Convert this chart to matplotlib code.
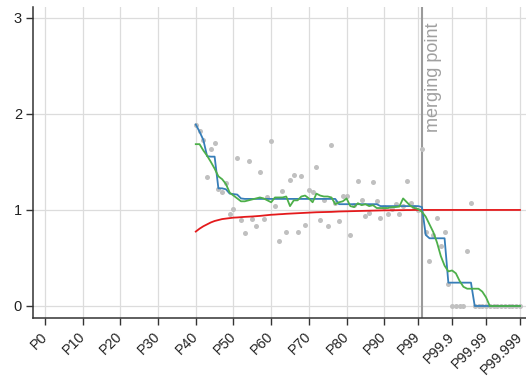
import numpy as np
import matplotlib
matplotlib.use("Agg")
import matplotlib.pyplot as plt

plt.rcParams['font.family'] = ['Liberation Sans', 'DejaVu Sans']

# ---- data -------------------------------------------------------------
tick_labels = ["P0", "P10", "P20", "P30", "P40", "P50", "P60", "P70", "P80",
               "P90", "P99", "P99.9", "P99.99", "P99.999"]
tick_index = [0, 10, 20, 30, 40, 50, 60, 70, 80, 90, 99, 108, 117, 126]

# one value per percentile step, from P40 (index 40) to P99.999 (index 126)
scatter_vals = [
    1.885, 1.82, 1.73, 1.34, 1.63, 1.70, 1.215, 1.19, 1.28, 0.96,
    1.007, 1.545, 0.90, 0.757, 1.51, 0.91, 0.83, 1.40, 0.91, 1.13,
    1.72, 1.04, 0.68, 1.20, 0.775, 1.31, 1.36, 0.775, 1.35, 0.84,
    1.21, 1.19, 1.45, 0.90, 1.10, 0.83, 1.68, 1.07, 0.88, 1.15,
    1.15, 0.74, 1.05, 1.30, 1.10, 0.94, 0.97, 1.29, 1.09, 0.92,
    1.03, 0.955, 1.01, 1.06, 0.955, 1.045, 1.30, 1.07, 1.03, 1.00,
    1.63, 0.775, 0.47, 0.74, 0.92, 0.62, 0.77, 0.23, 0.0, 0.0,
    0.0, 0.0, 0.575, 1.07, 0.0, 0.0, 0.0, 0.0, 0.0, 0.0,
    0.0, 0.0, 0.0, 0.0, 0.0, 0.0, 0.0,
]

blue_vals = [
    1.89, 1.815, 1.73, 1.56, 1.555, 1.555, 1.225, 1.225, 1.215, 1.17,
    1.165, 1.16, 1.12, 1.115, 1.115, 1.115, 1.115, 1.115, 1.115, 1.115,
    1.115, 1.115, 1.115, 1.115, 1.115, 1.115, 1.115, 1.115, 1.115, 1.115,
    1.115, 1.115, 1.115, 1.115, 1.115, 1.115, 1.115, 1.115, 1.06, 1.06,
    1.06, 1.06, 1.06, 1.06, 1.06, 1.06, 1.06, 1.06, 1.06, 1.04,
    1.04, 1.04, 1.04, 1.04, 1.04, 1.04, 1.04, 1.04, 1.04, 1.04,
    1.03, 0.74, 0.705, 0.705, 0.705, 0.705, 0.705, 0.243, 0.243, 0.243,
    0.243, 0.243, 0.243, 0.243, 0.0, 0.0, 0.0, 0.0, 0.0, 0.0,
    0.0, 0.0, 0.0, 0.0, 0.0, 0.0, 0.0,
]

green_vals = [
    1.685, 1.685, 1.62, 1.565, 1.50, 1.43, 1.35, 1.32, 1.27, 1.18,
    1.15, 1.12, 1.09, 1.09, 1.10, 1.11, 1.12, 1.13, 1.12, 1.10,
    1.08, 1.13, 1.13, 1.13, 1.14, 1.04, 1.10, 1.10, 1.14, 1.15,
    1.12, 1.08, 1.17, 1.15, 1.14, 1.14, 1.13, 1.06, 1.08, 1.09,
    1.12, 1.04, 1.03, 1.07, 1.05, 1.06, 1.04, 1.05, 1.02, 1.02,
    1.02, 1.02, 1.03, 1.03, 1.035, 1.12, 1.08, 1.04, 1.02, 1.01,
    0.98, 0.93, 0.85, 0.77, 0.66, 0.52, 0.42, 0.36, 0.37, 0.34,
    0.26, 0.20, 0.18, 0.18, 0.18, 0.18, 0.15, 0.09, 0.0, 0.0,
    0.0, 0.0, 0.0, 0.0, 0.0, 0.0, 0.0,
]

red_vals = [
    0.775, 0.805, 0.83, 0.85, 0.87, 0.885, 0.895, 0.905, 0.91, 0.915,
    0.92, 0.922, 0.925, 0.928, 0.93, 0.932, 0.935, 0.938, 0.942, 0.946,
    0.95, 0.952, 0.955, 0.957, 0.96, 0.962, 0.964, 0.966, 0.968, 0.97,
    0.972, 0.974, 0.976, 0.977, 0.978, 0.979, 0.98, 0.982, 0.984, 0.985,
    0.986, 0.987, 0.988, 0.989, 0.99, 0.991, 0.992, 0.993, 0.994, 0.995,
    0.996, 0.996, 0.997, 0.997, 0.998, 0.998, 0.999, 0.999, 1.0, 1.0,
    1.0, 1.0, 1.0, 1.0, 1.0, 1.0, 1.0, 1.0, 1.0, 1.0,
    1.0, 1.0, 1.0, 1.0, 1.0, 1.0, 1.0, 1.0, 1.0, 1.0,
    1.0, 1.0, 1.0, 1.0, 1.0, 1.0, 1.0,
]

merge_index = 100
merge_label = "merging point"

# ---- plot ------------------------------------------------------------
x = np.arange(40, 40 + len(scatter_vals))

fig = plt.figure(figsize=(5.26, 3.77), dpi=100)
ax = fig.add_axes([33 / 526, 59 / 377, 1 - 33 / 526, (318 - 7.3) / 377])

ax.set_xlim(-3.18, 127.6)
ax.set_ylim(-0.125, 3.11)

ax.grid(True, color="#dcdcdc", linewidth=0.9)
ax.set_axisbelow(True)

ax.scatter(x, scatter_vals, s=13, color="#c0c0c0", linewidths=0, zorder=2)
ax.plot(x, red_vals, color="#e41a1c", linewidth=1.3, zorder=3)
ax.plot(x, blue_vals, color="#377eb8", linewidth=1.3, zorder=4)
ax.plot(x, green_vals, color="#4daf4a", linewidth=1.3, zorder=5)

ax.axvline(merge_index, color="#9a9a9a", linewidth=1.5, zorder=1)
ax.text(merge_index + 0.9, 2.955, merge_label, rotation=90, ha="left", va="top",
        color="#a0a0a0", fontsize=13)

ax.set_xticks(tick_index)
ax.set_xticklabels(tick_labels, rotation=45, ha="right", va="center",
                   rotation_mode="anchor", fontsize=10.3)
ax.set_yticks([0, 1, 2, 3])
ax.set_yticklabels(["0", "1", "2", "3"], fontsize=10.5)

for side in ("top", "right"):
    ax.spines[side].set_visible(False)
for side in ("left", "bottom"):
    ax.spines[side].set_color("#333333")
    ax.spines[side].set_linewidth(1.1)
ax.tick_params(axis="y", direction="out", length=5, width=1, color="#333333",
               labelcolor="#222222", pad=3)
ax.tick_params(axis="x", direction="out", length=5, width=1, color="#333333",
               labelcolor="#222222", pad=7)

fig.savefig("out.png", dpi=100)
